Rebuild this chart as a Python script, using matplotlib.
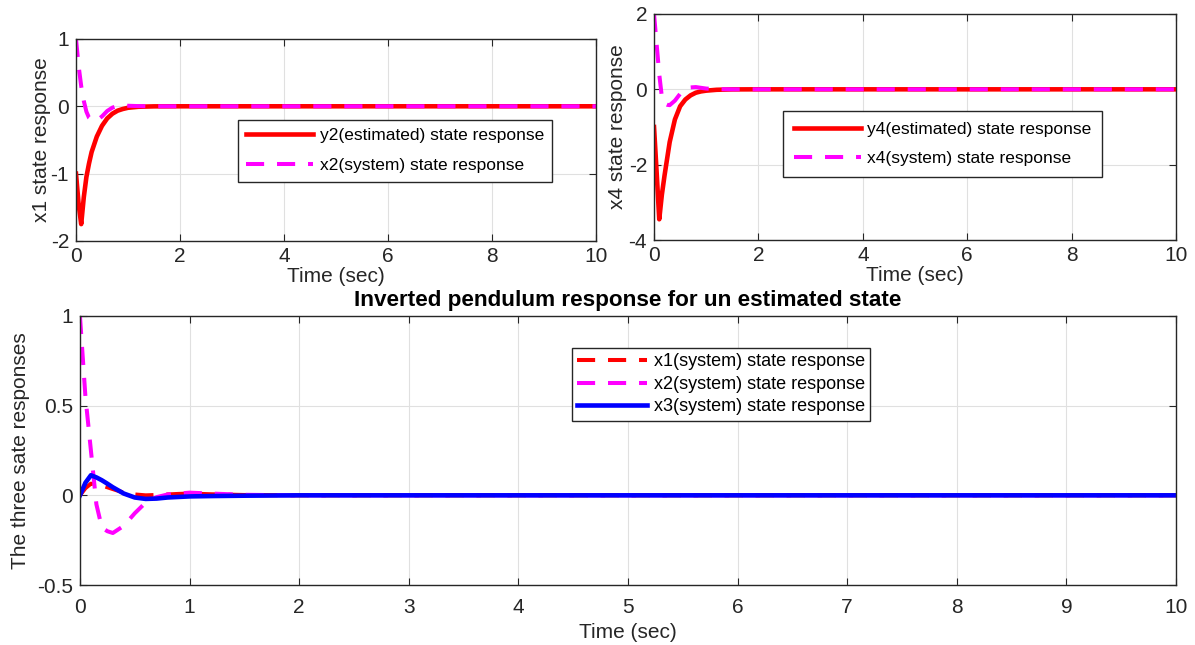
import matplotlib
matplotlib.use("Agg")
import matplotlib.pyplot as plt
from matplotlib.ticker import FormatStrFormatter

plt.rcParams['font.family'] = ['Liberation Sans', 'DejaVu Sans']
plt.rcParams['axes.unicode_minus'] = False

# time samples (sec)
t = [0, 0.05, 0.1, 0.15, 0.2, 0.25, 0.3, 0.4, 0.5, 0.6, 0.7, 0.8, 0.9, 1.0, 1.2, 1.5, 2, 10]

# top left: estimated vs system state 2
y2 = [-1.0, -1.45, -1.75, -1.35, -1.05, -0.85, -0.68, -0.45, -0.29, -0.18, -0.11, -0.065, -0.04, -0.022, -0.007, -0.001, 0, 0]
x2 = [1.0, 0.6, 0.3, 0.08, -0.08, -0.17, -0.2, -0.21, -0.15, -0.07, -0.02, 0.005, 0.01, 0.008, 0.003, 0, 0, 0]

# top right: estimated vs system state 4
y4 = [-1.0, -2.2, -3.45, -2.8, -2.3, -1.85, -1.4, -0.8, -0.45, -0.27, -0.16, -0.09, -0.055, -0.035, -0.012, -0.002, 0, 0]
x4 = [2.0, 1.2, 0.4, -0.2, -0.38, -0.41, -0.42, -0.3, -0.12, 0.0, 0.05, 0.06, 0.04, 0.02, 0.005, 0, 0, 0]

# bottom: three system states
x1_sys = [0, 0.04, 0.065, 0.06, 0.055, 0.045, 0.035, 0.015, 0.005, 0.0, 0.002, 0.005, 0.008, 0.01, 0.006, 0.002, 0, 0]
x2_sys = [1.0, 0.55, 0.25, -0.05, -0.18, -0.2, -0.21, -0.17, -0.1, -0.04, -0.01, 0.005, 0.01, 0.015, 0.01, 0.003, 0, 0]
x3_sys = [0, 0.07, 0.112, 0.1, 0.084, 0.065, 0.045, 0.01, -0.012, -0.02, -0.018, -0.012, -0.009, -0.006, -0.004, -0.002, 0, 0]

RED = '#ff0000'
MAG = '#ff00ff'
BLUE = '#0000ff'
DASH = (0, (4.5, 3.2))
AXC = '#262626'
FS = 15


def style(ax, xpad):
    ax.grid(True, color='#e0e0e0', lw=0.8)
    ax.set_axisbelow(True)
    for s in ax.spines.values():
        s.set_color(AXC)
        s.set_linewidth(1.0)
    ax.tick_params(direction='in', top=True, right=True, length=5,
                   labelsize=FS, colors=AXC, labelcolor=AXC)
    ax.tick_params(axis='x', pad=xpad)
    ax.tick_params(axis='y', pad=5)
    ax.yaxis.set_major_formatter(FormatStrFormatter('%g'))
    ax.set_xlim(0, 10)


def legend(ax, anchor, fs, spacing, bpad):
    leg = ax.legend(loc='upper left', bbox_to_anchor=anchor, fontsize=fs,
                    handlelength=3.85, handletextpad=0.38, labelspacing=spacing,
                    fancybox=False, edgecolor=AXC, framealpha=1,
                    borderaxespad=0, borderpad=bpad)
    leg.get_frame().set_linewidth(1.0)


fig = plt.figure(figsize=(11.95, 6.45), dpi=100)

# top-left panel
ax1 = fig.add_axes([0.0636, 0.6264, 0.4351, 0.3132])
ax1.plot(t, y2, color=RED, lw=3.3, label='y2(estimated) state response')
ax1.plot(t, x2, color=MAG, lw=2.9, ls=DASH, label='x2(system) state response')
ax1.set_ylim(-2, 1)
ax1.set_yticks([-2, -1, 0, 1])
ax1.set_xticks([0, 2, 4, 6, 8, 10])
style(ax1, 4)
ax1.set_xlabel('Time (sec)', fontsize=FS, color=AXC, labelpad=1)
ax1.set_ylabel('x1 state response', fontsize=FS, color=AXC, labelpad=0)
legend(ax1, (0.3115, 0.599), 12.5, 0.84, 0.48)

# top-right panel
ax2 = fig.add_axes([0.5473, 0.6279, 0.4368, 0.3504])
ax2.plot(t, y4, color=RED, lw=3.3, label='y4(estimated) state response')
ax2.plot(t, x4, color=MAG, lw=2.9, ls=DASH, label='x4(system) state response')
ax2.set_ylim(-4, 2)
ax2.set_yticks([-4, -2, 0, 2])
ax2.set_xticks([0, 2, 4, 6, 8, 10])
style(ax2, 4)
ax2.set_xlabel('Time (sec)', fontsize=FS, color=AXC, labelpad=1)
ax2.set_ylabel('x4 state response', fontsize=FS, color=AXC, labelpad=1)
legend(ax2, (0.247, 0.571), 12.5, 0.8, 0.62)

# bottom panel
ax3 = fig.add_axes([0.0669, 0.0930, 0.9172, 0.4171])
ax3.plot(t, x1_sys, color=RED, lw=2.9, ls=DASH, label='x1(system) state response')
ax3.plot(t, x2_sys, color=MAG, lw=2.9, ls=DASH, label='x2(system) state response')
ax3.plot(t, x3_sys, color=BLUE, lw=3.3, label='x3(system) state response')
ax3.set_ylim(-0.5, 1)
ax3.set_yticks([-0.5, 0, 0.5, 1])
ax3.set_xticks(range(11))
style(ax3, 9)
ax3.set_xlabel('Time (sec)', fontsize=FS, color=AXC, labelpad=5)
ax3.set_ylabel('The three sate responses', fontsize=FS, color=AXC, labelpad=5)
ax3.set_title('Inverted pendulum response for un estimated state',
              fontsize=16.2, fontweight='bold', pad=7)
legend(ax3, (0.449, 0.881), 13, 0.3, 0.3)

fig.savefig('out.png', dpi=100)
